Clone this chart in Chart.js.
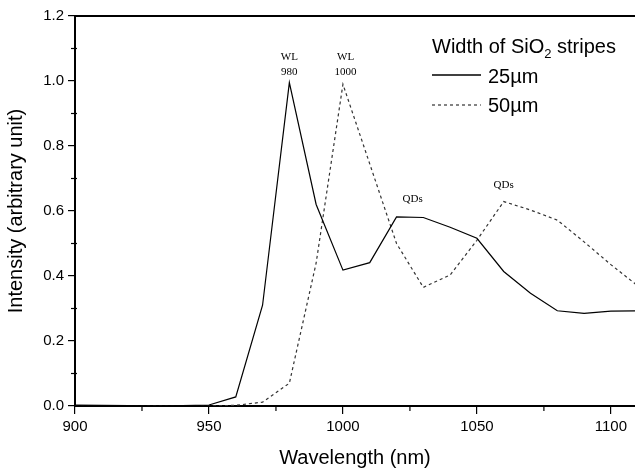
<!DOCTYPE html>
<html>
<head>
<meta charset="utf-8">
<script src="https://cdn.jsdelivr.net/npm/chart.js@4.4.0/dist/chart.umd.min.js"></script>
<style>
  html, body { margin: 0; padding: 0; background: #fff; }
  #wrap { width: 635px; height: 474px; position: relative; }
</style>
</head>
<body>
<div id="wrap"><canvas id="c"></canvas></div>
<script>
// wavelength grid (nm) and the two spectra
const wavelengths = [900, 910, 920, 930, 940, 950, 960, 970, 980, 990, 1000, 1010, 1020, 1030, 1040, 1050, 1060, 1070, 1080, 1090, 1100, 1110];
const stripe25 = [0.003, 0.002, 0.001, 0.0, 0.001, 0.003, 0.028, 0.31, 0.995, 0.62, 0.418, 0.441, 0.582, 0.58, 0.55, 0.516, 0.414, 0.347, 0.293, 0.285, 0.292, 0.293];
const stripe50 = [0.0, 0.0, 0.0, 0.0, 0.0, 0.0, 0.002, 0.012, 0.07, 0.44, 0.99, 0.745, 0.50, 0.365, 0.403, 0.51, 0.629, 0.603, 0.572, 0.505, 0.435, 0.37];
const seriesNames = ['25\u00b5m', '50\u00b5m'];
const xMinor = [925, 975, 1025, 1075];
const yMinor = [0.1, 0.3, 0.5, 0.7, 0.9, 1.1];
// peak labels: [x, y, text]
const peakNotes = [
  [980, 1.074, 'WL'], [980, 1.028, '980'],
  [1001, 1.074, 'WL'], [1001, 1.028, '1000'],
  [1026, 0.637, 'QDs'], [1060, 0.68, 'QDs'],
];

const toPts = (ys) => wavelengths.map((x, i) => ({ x, y: ys[i] }));

const extras = {
  id: 'extras',
  afterDraw(chart) {
    const { ctx, chartArea: a, scales: { x, y } } = chart;
    ctx.save();
    // top frame line
    ctx.strokeStyle = '#000'; ctx.lineWidth = 2;
    ctx.beginPath(); ctx.moveTo(a.left - 1, a.top); ctx.lineTo(a.right, a.top); ctx.stroke();
    // minor ticks
    ctx.lineWidth = 1.2;
    xMinor.forEach(v => {
      const px = x.getPixelForValue(v);
      ctx.beginPath(); ctx.moveTo(px, a.bottom); ctx.lineTo(px, a.bottom + 5); ctx.stroke();
    });
    yMinor.forEach(v => {
      const py = y.getPixelForValue(v);
      ctx.beginPath(); ctx.moveTo(a.left - 4, py); ctx.lineTo(a.left + 2, py); ctx.stroke();
    });
    // peak notes
    ctx.fillStyle = '#000';
    ctx.font = '11px "Liberation Serif", "DejaVu Serif", serif';
    ctx.textAlign = 'center'; ctx.textBaseline = 'middle';
    peakNotes.forEach(([vx, vy, t]) => ctx.fillText(t, x.getPixelForValue(vx), y.getPixelForValue(vy)));
    // legend
    const lx = 432;
    ctx.textAlign = 'left'; ctx.textBaseline = 'alphabetic';
    ctx.font = '20px "Liberation Sans", Arial, sans-serif';
    let cx = lx;
    ctx.fillText('Width of SiO', cx, 53);
    cx += ctx.measureText('Width of SiO').width;
    ctx.font = '13px "Liberation Sans", Arial, sans-serif';
    ctx.fillText('2', cx, 58);
    cx += ctx.measureText('2').width;
    ctx.font = '20px "Liberation Sans", Arial, sans-serif';
    ctx.fillText(' stripes', cx, 53);
    const rows = [[75, 83, [], 1.3, '#000'], [105, 112, [3, 3], 1.2, '#333']];
    rows.forEach(([ly, by, dash, w, col], i) => {
      ctx.strokeStyle = col; ctx.lineWidth = w; ctx.setLineDash(dash);
      ctx.beginPath(); ctx.moveTo(lx, ly); ctx.lineTo(lx + 49, ly); ctx.stroke();
      ctx.setLineDash([]);
      ctx.fillStyle = '#000';
      ctx.fillText(seriesNames[i], 488, by);
    });
    ctx.restore();
  }
};

new Chart(document.getElementById('c'), {
  type: 'line',
  data: {
    datasets: [
      { label: seriesNames[0], data: toPts(stripe25), borderColor: '#000', borderWidth: 1.2, pointRadius: 0, tension: 0, fill: false },
      { label: seriesNames[1], data: toPts(stripe50), borderColor: '#333', borderWidth: 1.2, borderDash: [3, 3], pointRadius: 0, tension: 0, fill: false },
    ]
  },
  options: {
    responsive: true, maintainAspectRatio: false, animation: false,
    layout: { padding: { top: 16, right: 0, left: 0, bottom: 0 } },
    plugins: { legend: { display: false }, tooltip: { enabled: false } },
    scales: {
      x: {
        type: 'linear', min: 900, max: 1109,
        afterFit: s => { s.height = 68; },
        border: { display: true, color: '#000', width: 2 },
        grid: { display: true, drawOnChartArea: false, drawTicks: true, tickLength: 8, color: '#000', lineWidth: 1.2 },
        ticks: { stepSize: 50, includeBounds: false, color: '#000', padding: 4, maxRotation: 0,
                 callback: v => String(v),
                 font: { family: '"Liberation Sans", Arial, sans-serif', size: 15 } },
        title: { display: true, text: 'Wavelength (nm)', color: '#000', padding: { top: 0, bottom: 4 },
                 font: { family: '"Liberation Sans", Arial, sans-serif', size: 20 } }
      },
      y: {
        min: 0, max: 1.2,
        afterFit: s => { s.width = 75; },
        border: { display: true, color: '#000', width: 2 },
        grid: { display: true, drawOnChartArea: false, drawTicks: true, tickLength: 7, color: '#000', lineWidth: 1.2 },
        ticks: { stepSize: 0.2, includeBounds: false, color: '#000', padding: 4,
                 callback: v => v.toFixed(1),
                 font: { family: '"Liberation Sans", Arial, sans-serif', size: 15 } },
        title: { display: true, text: 'Intensity (arbitrary unit)', color: '#000', padding: { top: 4, bottom: 0 },
                 font: { family: '"Liberation Sans", Arial, sans-serif', size: 20 } }
      }
    }
  },
  plugins: [extras]
});
</script>
</body>
</html>
